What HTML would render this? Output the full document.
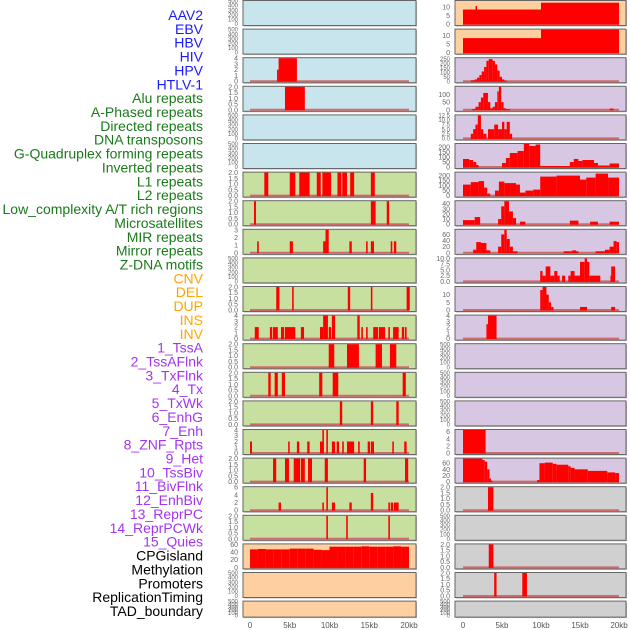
<!DOCTYPE html>
<html><head><meta charset="utf-8">
<style>
html,body{margin:0;padding:0;background:#fff;}
svg{display:block;font-family:"Liberation Sans",sans-serif;}
</style></head>
<body>
<svg id="chart" width="630" height="630" viewBox="0 0 630 630" xmlns="http://www.w3.org/2000/svg"></svg>
<script>
const trackLabels = ["AAV2","EBV","HBV","HIV","HPV","HTLV-1","Alu repeats","A-Phased repeats","Directed repeats","DNA transposons","G-Quadruplex forming repeats","Inverted repeats","L1 repeats","L2 repeats","Low_complexity A/T rich regions","Microsatellites","MIR repeats","Mirror repeats","Z-DNA motifs","CNV","DEL","DUP","INS","INV","1_TssA","2_TssAFlnk","3_TxFlnk","4_Tx","5_TxWk","6_EnhG","7_Enh","8_ZNF_Rpts","9_Het","10_TssBiv","11_BivFlnk","12_EnhBiv","13_ReprPC","14_ReprPCWk","15_Quies","CPGisland","Methylation","Promoters","ReplicationTiming","TAD_boundary"];
const labelGroups = [6,13,5,15,5];
const groupColors = ["#1a1aff","#1a7a1a","#ffa500","#a335f0","#000000"];

const xTickValues = [0,5,10,15,20];
const xTickLabels = ["0","5kb","10kb","15kb","20kb"];

const T500 = [0,100,200,300,400,500];
const T2 = [0,0.5,1,1.5,2];
const T4 = [0,1,2,3,4];

const midColors = ["#c8e4ec","#c8e4ec","#c8e4ec","#c8e4ec","#c8e4ec","#c8e4ec","#c8e09f","#c8e09f","#c8e09f","#c8e09f","#c8e09f","#c8e09f","#c8e09f","#c8e09f","#c8e09f","#c8e09f","#c8e09f","#c8e09f","#c8e09f","#ffd09f","#ffd09f","#ffd09f"];
const midYMax = [500,500,4,2,500,500,2,2,3,500,2,4,2,2,2,4,2,6,2,60,500,500];
const midTicks = [T500,T500,T4,T2,T500,T500,T2,T2,[0,1,2,3],T500,T2,T4,T2,T2,T2,T4,T2,[0,2,4,6],T2,[0,20,40,60],T500,T500];
const midBars = [
 [],[],
 [[3.4,3.6,2],[3.6,5.9,4]],
 [[4.4,6.9,2]],
 [],[],
 [[1.8,2.3,2],[5.0,5.7,2],[6.2,7.5,2],[8.4,8.9,2],[9.1,10.2,2],[11.0,11.5,2],[11.6,12.2,2],[12.6,13.1,2],[15.2,15.7,2]],
 [[0.5,0.75,2],[15.2,15.8,2],[17.2,17.5,2]],
 [[0.9,1.1,1.5],[5.0,5.4,1.5],[9.2,9.5,1.5],[9.5,9.9,3],[12.5,12.8,1.5],[14.6,14.8,1.5],[15.2,15.6,1.5],[17.7,17.9,1.5],[18.1,18.4,1.5]],
 [],
 [[3.3,3.7,2],[5.3,5.5,2],[12.3,12.6,2],[15.2,15.4,2],[19.7,20.1,2]],
 [[0.6,1.1,2],[2.5,2.8,2],[2.9,3.5,2],[3.9,4.3,2],[4.4,5.7,2],[6.4,6.8,2],[8.8,9.2,2],[9.2,9.8,4],[9.9,10.2,2],[10.3,10.7,4],[13.5,13.8,4],[14.0,14.2,2],[14.6,14.8,2],[15.5,16.1,2],[16.2,17.0,2],[17.4,17.6,2],[18.0,18.7,2],[19.1,19.4,2],[19.5,19.7,2]],
 [[9.9,10.6,2],[12.2,13.7,2],[15.8,16.6,2],[17.6,18.4,2]],
 [[2.3,2.6,2],[3.1,3.5,2],[4.0,4.4,2],[8.7,9.1,2],[10.4,11.1,2],[19.2,19.6,2]],
 [[11.3,11.6,2],[15.2,15.5,2],[18.4,18.7,2]],
 [[0,0.25,2],[4.8,5.0,2],[5.9,6.2,2],[7.2,7.5,2],[8.8,9.2,2],[9.1,9.3,4],[9.6,9.8,4],[10.3,10.7,2],[10.9,11.2,2],[11.6,11.8,2],[12.2,13.1,2],[13.6,13.8,2],[14.8,15.1,2],[15.2,15.6,2],[17.9,18.1,2],[19.4,19.7,2]],
 [[2.9,3.3,2],[4.4,4.9,2],[5.5,6.3,2],[6.4,6.9,2],[7.3,7.8,2],[9.4,9.8,2],[14.3,14.6,2],[19.5,19.9,2]],
 [[3.6,3.9,2],[9.1,9.3,2],[9.6,9.8,6],[10.3,10.7,2],[12.5,12.8,2],[15.2,15.5,4.5],[17.4,17.6,2],[17.7,18.0,2],[18.1,18.7,2]],
 [[9.6,9.8,2],[12.1,12.3,2],[17.4,17.6,2]],
 [[0,1,47],[1,2,48],[2,3,47],[3,4,47],[4,5,47],[5,6,49],[6,7,49],[7,8,49],[8,9,46],[9,10,45],[10,11,54],[11,12,54],[12,13,54],[13,14,54],[14,15,55],[15,16,54],[16,17,54],[17,18,54],[18,19,55],[19,20,54]],
 [],[]
];

const rightColors = ["#ffd09f","#ffd09f","#d7c7e3","#d7c7e3","#d7c7e3","#d7c7e3","#d7c7e3","#d7c7e3","#d7c7e3","#d7c7e3","#d7c7e3","#d7c7e3","#d7c7e3","#d7c7e3","#d7c7e3","#d7c7e3","#d7c7e3","#d0d0d0","#d0d0d0","#d0d0d0","#d0d0d0","#d0d0d0"];
const rightYMax = [13.5,13.5,260,150,12.5,230,230,45,75,10,15,4,500,500,500,6.5,75,2,500,2,2,500];
const rightTicks = [[0,5,10],[0,5,10],[0,50,100,150,200,250],[0,50,100],[0,2.5,5,7.5,10,12.5],[0,50,100,150,200],[0,50,100,150,200],[0,10,20,30,40],[0,20,40,60],[0,2.5,5,7.5,10],[0,5,10],T4,T500,T500,T500,[0,2,4,6],[0,20,40,60],T2,T500,T2,T2,T500];
const rightBars = [
 [[0,10,8.5],[1.6,1.8,10.5],[10,20,12.5]],
 [[0,10,8.5],[10,20,13.5]],
 [[1.0,1.5,10],[1.5,1.8,20],[1.8,2.1,40],[2.1,2.4,70],[2.4,2.7,110],[2.7,3.0,160],[3.0,3.3,230],[3.3,3.8,250],[3.8,4.1,230],[4.1,4.4,190],[4.4,4.7,120],[4.7,5.0,50],[5.0,5.3,20],[5.3,5.6,8]],
 [[1.2,1.6,5],[1.6,2.0,20],[2.0,2.3,50],[2.3,2.6,80],[2.6,3.2,110],[3.2,3.5,50],[3.5,3.8,10],[3.8,4.1,20],[4.1,4.4,50],[4.4,4.6,120],[4.6,4.9,150],[4.9,5.2,50],[5.2,5.5,10],[5.5,6.0,5],[18.8,19.3,8]],
 [[1.0,1.3,2.5],[1.3,1.6,5],[1.6,1.9,7.5],[1.9,2.3,12.5],[2.3,2.6,5],[2.6,3.0,2.5],[3.2,4.0,5],[4.0,4.5,7.5],[4.5,5.0,5],[5.0,5.3,9],[5.3,5.6,5],[5.6,6.0,9],[6.0,6.3,2.5]],
 [[0,0.8,80],[0.8,1.3,70],[1.3,1.7,50],[1.7,2.0,20],[5.0,5.5,40],[5.5,6.0,90],[6.0,7.0,140],[7.0,7.8,160],[7.8,8.5,230],[8.5,9.3,210],[9.3,9.9,225],[9.9,13.7,10],[13.7,14.2,50],[14.2,14.8,80],[14.8,15.3,60],[15.3,16.8,70],[16.8,17.3,40],[17.3,17.8,15],[17.8,18.8,15],[18.8,20,35]],
 [[0,1.0,110],[1.0,2.0,135],[2.0,2.7,145],[2.7,3.1,80],[3.1,3.5,20],[4.1,4.6,50],[4.6,5.3,140],[5.3,6.8,125],[6.8,7.3,110],[7.3,8.0,30],[8.0,9.0,50],[9.0,9.9,60],[9.9,12.0,190],[12.0,15.0,200],[15.0,15.8,160],[15.8,17.0,180],[17.0,18.6,220],[18.6,20,180]],
 [[0,1.5,8],[1.5,2.2,14],[4.5,4.9,10],[4.9,5.3,35],[5.3,5.9,45],[5.9,6.4,25],[6.4,6.8,12],[7.3,8.0,5],[13.7,14.8,7],[16.3,17.3,5],[18.8,20,5]],
 [[1.3,1.7,10],[1.7,2.3,35],[2.3,3.0,32],[3.0,3.5,8],[4.5,4.9,20],[4.9,5.3,60],[5.3,5.6,75],[5.6,6.0,45],[6.0,6.4,20],[6.4,7.0,5],[12.9,14.0,5],[14.0,14.5,8],[14.5,14.8,5],[17.0,18.2,5],[18.2,18.8,10],[18.8,19.3,20],[19.3,19.7,38],[19.7,20,35]],
 [[9.9,10.2,4.5],[10.2,10.6,2.5],[10.6,11.2,6.5],[11.2,11.7,2.5],[11.7,12.1,4.5],[12.1,12.4,2.5],[12.7,13.1,2.5],[13.5,13.8,2.5],[13.8,14.3,4.5],[14.3,15.0,2.5],[15.0,15.6,8.5],[15.6,15.9,10],[15.9,16.2,8.5],[16.2,17.6,2.5],[18.9,19.0,2.5],[19.0,19.5,6.5]],
 [[9.9,10.2,13],[10.2,10.7,15],[10.7,11.0,10],[11.0,11.3,5],[11.3,11.6,2],[15.0,15.9,2],[19.0,19.5,2]],
 [[3.0,3.2,2.5],[3.2,4.3,4]],
 [],[],[],
 [[0,2.9,6.5]],
 [[0,2.5,75],[2.5,2.8,70],[2.8,3.1,65],[3.1,3.4,40],[3.4,3.6,10],[3.6,3.8,3],[9.5,9.8,5],[9.8,10.5,60],[10.5,11.5,62],[11.5,12,58],[12,13.5,55],[13.5,13.8,50],[13.8,14.3,45],[14.3,16.0,40],[16,18.5,35],[18.5,19.5,30],[19.5,20,28]],
 [[3.2,3.9,2]],
 [],
 [[3.3,3.9,2]],
 [[4.0,4.3,2],[7.6,8.2,2]],
 []
];

const NS = "http://www.w3.org/2000/svg";
const svg = document.getElementById("chart");
function mk(tag, attrs, parent){
  const e = document.createElementNS(NS, tag);
  for (const k in attrs) e.setAttribute(k, attrs[k]);
  (parent||svg).appendChild(e);
  return e;
}
function fmt(v, ticks){
  const dec = ticks.some(t => t % 1 !== 0);
  if (!dec) return String(v);
  const needs2 = ticks.some(t => Math.abs(t*10 - Math.round(t*10)) > 1e-9);
  return v.toFixed(1);
}

// left labels
let li = 0;
labelGroups.forEach((n, g) => {
  for (let k = 0; k < n; k++, li++) {
    const t = mk("text", {x: 203, y: 20 + li*13.86, "text-anchor": "end", "font-size": "14", fill: groupColors[g]});
    
    
    t.textContent = trackLabels[li];
  }
});

const cols = [
  {x0: 243, x1: 416, k0: 250, k20: 409, tickX: 238, colors: midColors, ymax: midYMax, ticks: midTicks, bars: midBars, name: "left"},
  {x0: 455, x1: 626, k0: 463, k20: 619, tickX: 450, colors: rightColors, ymax: rightYMax, ticks: rightTicks, bars: rightBars, name: "right"}
];

cols.forEach(col => {
  const xs = kb => col.k0 + (col.k20 - col.k0) * kb / 20;
  for (let i = 0; i < 22; i++) {
    const top = 0.5 + i*28.6;
    const h = i === 21 ? 16 : 25;
    const bottom = top + h;
    const y0 = bottom - 1.5, y1 = top + 0.5;
    const ys = v => y0 - (y0 - y1) * v / col.ymax[i];
    const g = mk("g", {});
    
    
    mk("rect", {x: col.x0+1, y: top+1, width: col.x1-col.x0, height: h, fill: "#bbbbbb"}, g);
    mk("rect", {x: col.x0, y: top, width: col.x1-col.x0, height: h, fill: col.colors[i], stroke: "#666", "stroke-width": 1}, g);
    const bars = col.bars[i];
    if (bars.length) {
      mk("line", {x1: xs(0), x2: xs(20), y1: y0, y2: y0, stroke: "#d06a6a", "stroke-width": 2}, g);
    }
    bars.forEach(b => {
      const yt = Math.max(ys(b[2]), top + 0.5);
      const r = mk("rect", {x: xs(b[0]), y: yt, width: Math.max(xs(b[1]) - xs(b[0]), 1), height: y0 - yt + 0.5, fill: "#ff0000"}, g);
      
      
    });
    const ticks = col.ticks[i];
    const fs = ticks.length >= 6 ? 6 : 7;
    ticks.forEach(tv => {
      const ty = Math.min(ys(tv), y0);
      const t = mk("text", {x: col.tickX, y: ty + fs*0.35, "text-anchor": "end", "font-size": fs, fill: "#666"}, g);
      
      
      t.textContent = fmt(tv, ticks);
    });
  }
  xTickValues.forEach((v, j) => {
    const t = mk("text", {x: xs(v), y: 628, "text-anchor": "middle", "font-size": 8, fill: "#555"});
    
    
    t.textContent = xTickLabels[j];
  });
});
</script>
</body></html>
